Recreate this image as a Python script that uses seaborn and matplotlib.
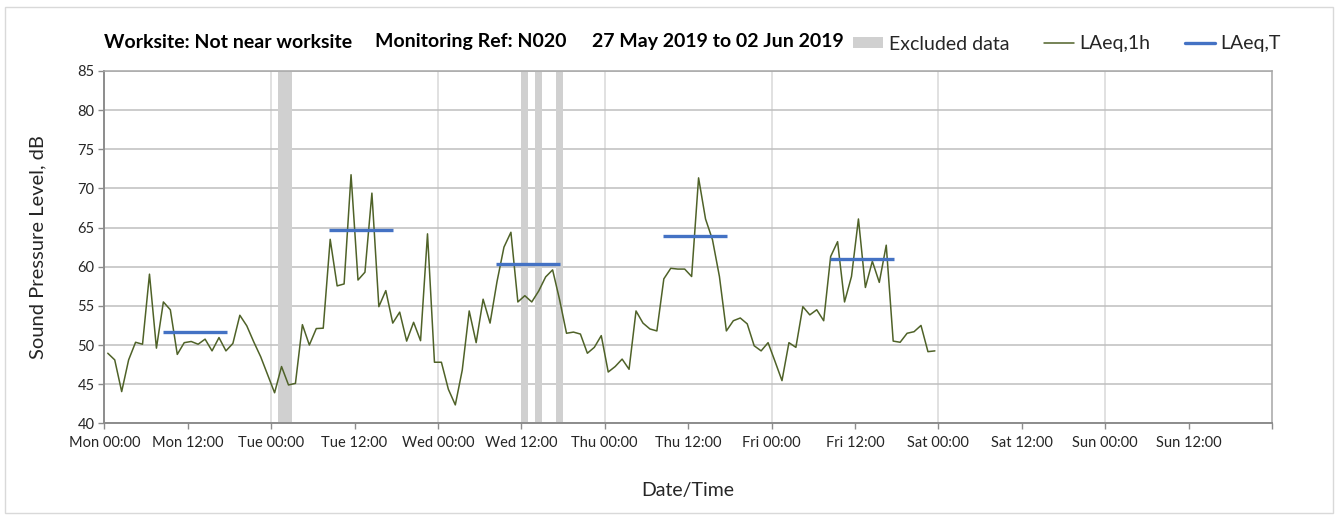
import numpy as np
import pandas as pd
import matplotlib
matplotlib.use("Agg")
import matplotlib.pyplot as plt
import seaborn as sns
from matplotlib.patches import Patch, Rectangle
from matplotlib.lines import Line2D

# ---------------- data ----------------
hour_index = list(range(120))
laeq_1h = [
    48.95, 48.1, 44.05, 48.1, 50.35, 50.1, 59.05, 49.6, 55.5, 54.5,
    48.8, 50.3, 50.45, 50.1, 50.75, 49.25, 50.95, 49.25, 50.2, 53.8,
    52.45, 50.4, 48.5, 46.2, 43.9, 47.25, 44.9, 45.1, 52.6, 50.0,
    52.1, 52.15, 63.5, 57.55, 57.8, 71.75, 58.3, 59.3, 69.4, 54.9,
    56.95, 52.8, 54.2, 50.5, 52.9, 50.55, 64.2, 47.8, 47.8, 44.35,
    42.35, 46.8, 54.35, 50.3, 55.85, 52.8, 58.1, 62.5, 64.4, 55.5,
    56.3, 55.5, 56.9, 58.7, 59.6, 55.8, 51.5, 51.65, 51.4, 48.95,
    49.7, 51.2, 46.55, 47.25, 48.2, 46.9, 54.35, 52.8, 52.05, 51.8,
    58.45, 59.8, 59.7, 59.7, 58.75, 71.35, 66.1, 63.45, 58.75, 51.8,
    53.1, 53.45, 52.7, 49.9, 49.25, 50.3, 47.9, 45.45, 50.3, 49.7,
    54.9, 53.85, 54.5, 53.1, 61.3, 63.2, 55.5, 58.75, 66.1, 57.35,
    60.7, 58.0, 62.75, 50.5, 50.35, 51.5, 51.7, 52.5, 49.15, 49.25,
]
period_start = [8, 32, 56, 80, 104]
period_end = [18, 42, 66, 90, 114]
laeq_T = [51.6, 64.7, 60.35, 63.9, 61.05]
excluded_start = [25, 60, 62, 65]
excluded_end = [27, 61, 63, 66]
tick_labels = ["Mon 00:00", "Mon 12:00", "Tue 00:00", "Tue 12:00",
               "Wed 00:00", "Wed 12:00", "Thu 00:00", "Thu 12:00",
               "Fri 00:00", "Fri 12:00", "Sat 00:00", "Sat 12:00",
               "Sun 00:00", "Sun 12:00", ""]
y_ticks = [40, 45, 50, 55, 60, 65, 70, 75, 80, 85]

# ---------------- style ----------------
sns.set_theme(style="white")
plt.rcParams["font.family"] = ["Lato", "DejaVu Sans"]

GREEN = "#4F6228"
BLUE = "#4472C4"
BAND = "#D0D0D0"
TXT = "#262626"

W, H = 1341, 520
fig = plt.figure(figsize=(W / 100, H / 100), dpi=100)
fig.patch.set_facecolor("white")
ax = fig.add_axes([104.3 / W, 1 - 423.3 / H, (1272 - 104.3) / W, (423.3 - 71) / H])

# outer chart border
fig.add_artist(Rectangle((5 / W, 1 - 513 / H), 1328 / W, 506 / H,
                         transform=fig.transFigure, fill=False,
                         edgecolor="#D9D9D9", lw=1.0))

# excluded bands
for s, e in zip(excluded_start, excluded_end):
    ax.axvspan(s, e, color=BAND, lw=0, zorder=1)

# day gridlines (vertical)
for d in range(24, 168, 24):
    ax.axvline(d, color="#D9D9D9", lw=1.1, zorder=0.5)

df = pd.DataFrame({"x": np.array(hour_index) + 0.5, "y": laeq_1h})
sns.lineplot(data=df, x="x", y="y", ax=ax, color=GREEN, lw=1.1, zorder=3,
             legend=False)

for s, e, v in zip(period_start, period_end, laeq_T):
    ax.hlines(v, s + 0.4, e - 0.4, color=BLUE, lw=2.4, zorder=4,
              capstyle="butt")

ax.set_xlim(0, 168)
ax.set_ylim(40, 85)
ax.set_xticks(np.arange(0, 169, 12))
ax.set_xticklabels(tick_labels)
ax.set_yticks(y_ticks)
ax.yaxis.grid(True, color="#BFBFBF", lw=1.1)
ax.xaxis.grid(False)
ax.set_axisbelow(True)

for sp in ax.spines.values():
    sp.set_visible(True)
    sp.set_color("#A6A6A6")
    sp.set_linewidth(1.1)
ax.spines["left"].set_color("#8C8C8C")
ax.spines["bottom"].set_color("#8C8C8C")
ax.spines["left"].set_linewidth(1.4)
ax.spines["bottom"].set_linewidth(1.4)

ax.tick_params(axis="both", which="major", direction="out", length=4,
               width=1.0, color="#8C8C8C", labelsize=10.5, labelcolor=TXT,
               bottom=True, left=True)
ax.tick_params(axis="x", pad=5)
ax.tick_params(axis="y", pad=3)

ax.set_xlabel("Date/Time", fontsize=14, color=TXT, labelpad=23)
ax.set_ylabel("Sound Pressure Level, dB", fontsize=14.5, color=TXT, labelpad=22)

# title texts
ty = 1 - 42 / H
for xpos, txt in [(104, "Worksite: Not near worksite"),
                  (375, "Monitoring Ref: N020"),
                  (592, "27 May 2019 to 02 Jun 2019")]:
    fig.text(xpos / W, ty, txt, fontsize=14, fontweight="bold",
             color="black", va="center", ha="left")

handles = [Patch(facecolor=BAND, edgecolor="none"),
           Line2D([], [], color=GREEN, lw=1.1),
           Line2D([], [], color=BLUE, lw=2.4)]
labels = ["Excluded data", "LAeq,1h", "LAeq,T"]
fig.legend(handles, labels, ncol=3, loc="center left",
           bbox_to_anchor=(853 / W, 1 - 44 / H), frameon=False,
           fontsize=14, handlelength=1.55, handleheight=0.5,
           handletextpad=0.3, columnspacing=1.75, borderpad=0,
           borderaxespad=0, labelcolor=TXT)

fig.savefig("out.png", dpi=100, facecolor="white")
